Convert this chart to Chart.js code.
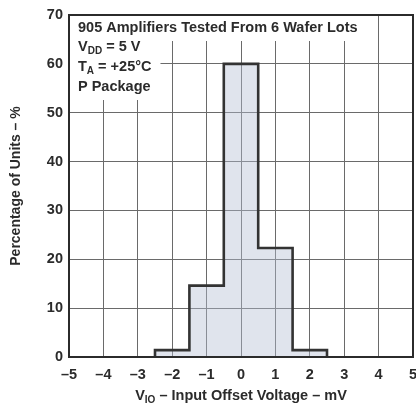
<!DOCTYPE html>
<html>
<head>
<meta charset="utf-8">
<script src="https://cdn.jsdelivr.net/npm/chart.js@4/dist/chart.umd.min.js"></script>
<style>
  html, body { margin: 0; padding: 0; background: #fff; }
  #wrap { width: 416px; height: 407px; }
</style>
</head>
<body>
<div id="wrap"><canvas id="chart" width="416" height="407"></canvas></div>
<script>
// ---- data ------------------------------------------------------------------
const binCenters = [-2, -1, 0, 1, 2];         // mV
const binWidth = 1;
const percentages = [1.4, 14.6, 60, 22.3, 1.4]; // % of units
const xTicks = [-5, -4, -3, -2, -1, 0, 1, 2, 3, 4, 5];
const yTicks = [0, 10, 20, 30, 40, 50, 60, 70];
const noteLines = [
  [{ t: "905 Amplifiers Tested From 6 Wafer Lots" }],
  [{ t: "V" }, { t: "DD", sub: true }, { t: " = 5 V" }],
  [{ t: "T" }, { t: "A", sub: true }, { t: " = +25°C" }],
  [{ t: "P Package" }],
];
const xTitle = [{ t: "V" }, { t: "IO", sub: true }, { t: " – Input Offset Voltage – mV" }];
const yTitle = "Percentage of Units – %";

const INK = "#2b2b2b";
const GRID = "#6a6a6a";
const FONT = "Liberation Sans, Arial, Helvetica, sans-serif";
const FS = 14.5;

// stepped outline: left edge from 0, each bin's top, then back down to 0
const outline = [{ x: binCenters[0] - binWidth / 2, y: 0 }];
binCenters.forEach((c, i) => outline.push({ x: c - binWidth / 2, y: percentages[i] }));
outline.push({ x: binCenters[binCenters.length - 1] + binWidth / 2, y: 0 });

function fmtTick(v) { return v < 0 ? "–" + Math.abs(v) : String(v); }

// draws text with subscript segments, returns width
function drawRich(ctx, segs, x, y, size, measureOnly) {
  let w = 0;
  segs.forEach(s => {
    ctx.font = `bold ${s.sub ? Math.round(size * 0.68) : size}px ${FONT}`;
    if (!measureOnly) ctx.fillText(s.t, x + w, s.sub ? y + size * 0.3 : y);
    w += ctx.measureText(s.t).width;
  });
  return w;
}

const extras = {
  id: "extras",
  afterDatasetsDraw(chart) {
    const { ctx, chartArea: a } = chart;
    ctx.save();
    ctx.textBaseline = "middle";
    ctx.textAlign = "left";
    // white boxes behind the note text
    ctx.fillStyle = "#fff";
    const w0 = drawRich(ctx, noteLines[0], 0, 0, FS, true);
    const w2 = Math.max(drawRich(ctx, noteLines[2], 0, 0, FS, true), drawRich(ctx, noteLines[3], 0, 0, FS, true));
    ctx.fillRect(a.left + 1, a.top + 1, w0 + 14, 25);
    ctx.fillRect(a.left + 1, a.top + 25, w2 + 17, 60);
    ctx.fillStyle = INK;
    const ys = [28, 47, 67, 87];
    noteLines.forEach((ln, i) => drawRich(ctx, ln, a.left + 9, ys[i], FS, false));

    // frame
    ctx.strokeStyle = INK;
    ctx.lineWidth = 2;
    ctx.strokeRect(a.left, a.top, a.right - a.left, a.bottom - a.top);

    // axis titles
    ctx.fillStyle = INK;
    const tw = drawRich(ctx, xTitle, 0, 0, FS, true);
    drawRich(ctx, xTitle, (a.left + a.right) / 2 - tw / 2, 396, FS, false);
    ctx.translate(16, (a.top + a.bottom) / 2);
    ctx.rotate(-Math.PI / 2);
    ctx.textAlign = "center";
    ctx.font = `bold 14px ${FONT}`;
    ctx.fillText(yTitle, 0, 0);
    ctx.restore();
  },
};

new Chart(document.getElementById("chart"), {
  type: "line",
  data: {
    datasets: [{
      data: outline,
      stepped: "before",
      borderColor: "#333",
      borderWidth: 2.6,
      backgroundColor: "rgba(180,190,212,0.42)",
      fill: "origin",
      pointRadius: 0,
    }],
  },
  options: {
    responsive: false,
    animation: false,
    layout: { padding: { top: 15, right: 3, left: 0, bottom: 0 } },
    plugins: { legend: { display: false }, tooltip: { enabled: false } },
    scales: {
      x: {
        type: "linear", min: -5, max: 5,
        afterBuildTicks: (s) => { s.ticks = xTicks.map(v => ({ value: v })); },
        afterFit: (s) => { s.height = 50; s.paddingLeft = 0; s.paddingRight = 0; },
        grid: { color: GRID, lineWidth: 1, drawTicks: false },
        border: { display: false },
        ticks: { color: INK, padding: 9, font: { family: FONT, size: FS, weight: "bold" }, callback: fmtTick, maxRotation: 0, autoSkip: false },
      },
      y: {
        min: 0, max: 70,
        afterBuildTicks: (s) => { s.ticks = yTicks.map(v => ({ value: v })); },
        afterFit: (s) => { s.width = 69; s.paddingTop = 0; s.paddingBottom = 0; },
        grid: { color: GRID, lineWidth: 1, drawTicks: false },
        border: { display: false },
        ticks: { color: INK, padding: 6, font: { family: FONT, size: FS, weight: "bold" }, callback: fmtTick },
      },
    },
  },
  plugins: [extras],
});
</script>
</body>
</html>
